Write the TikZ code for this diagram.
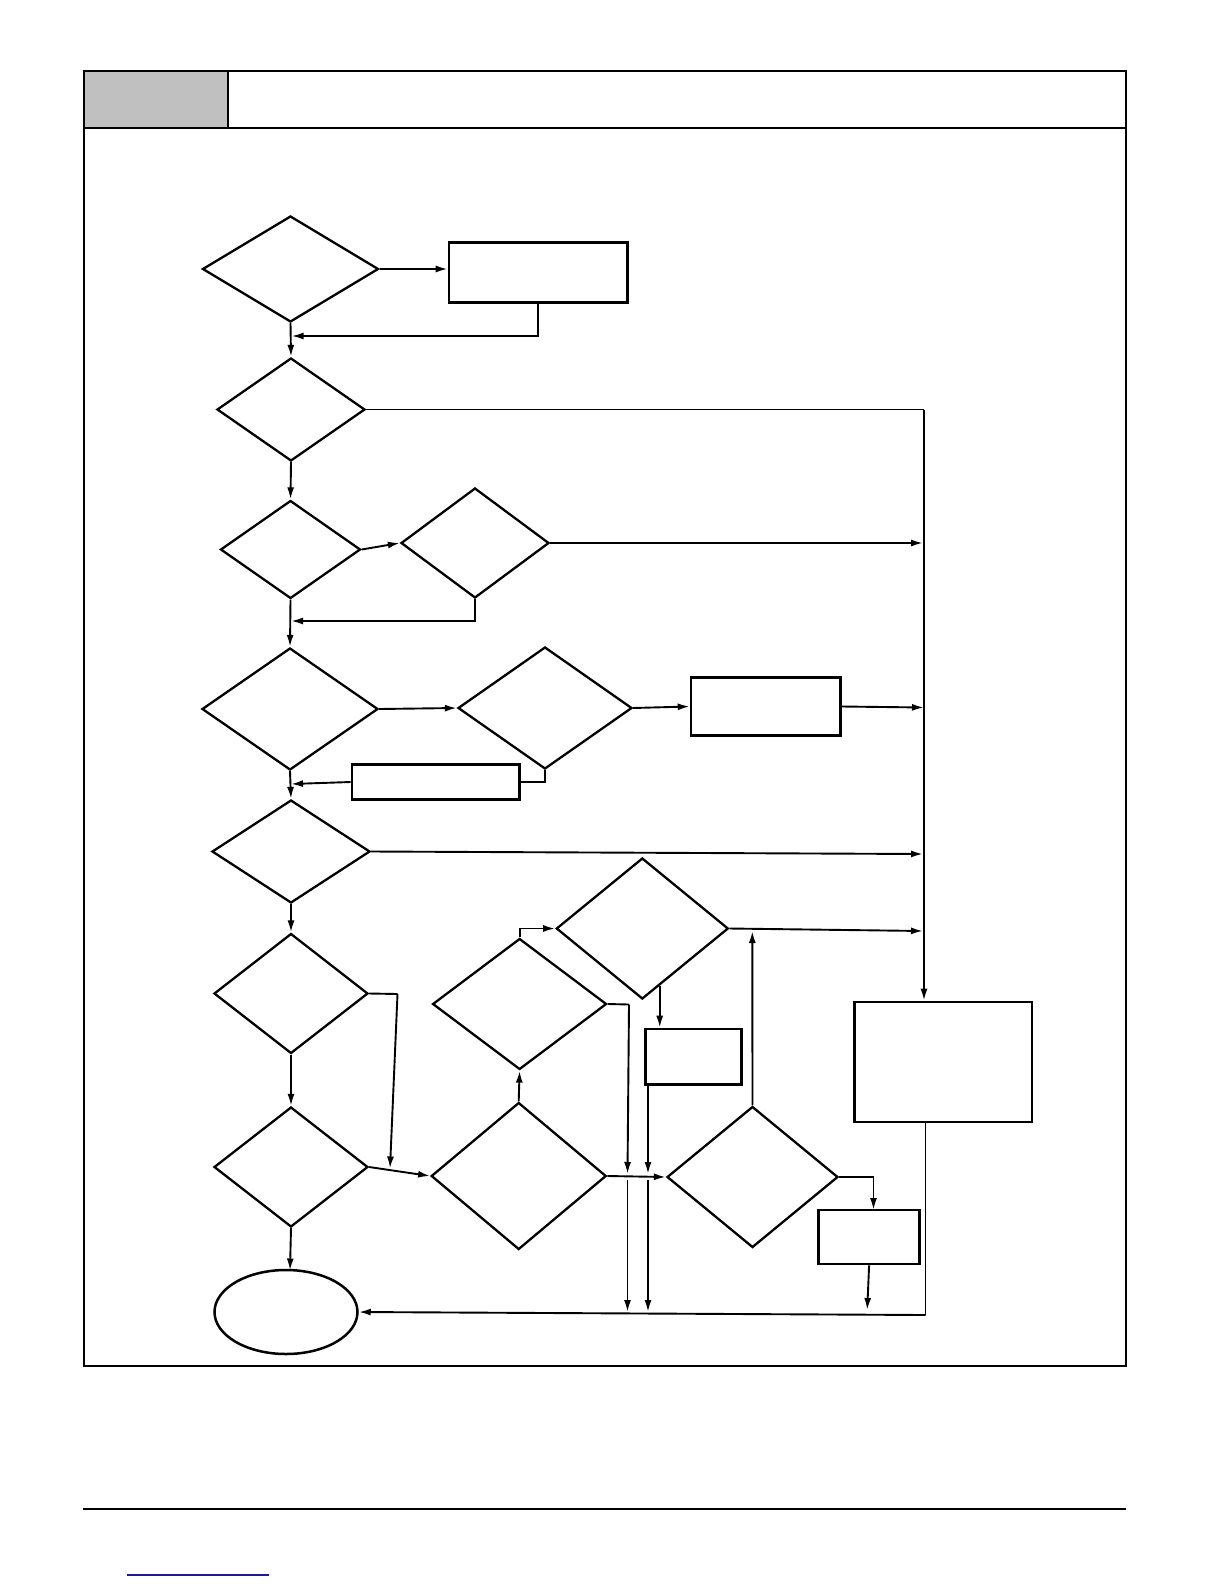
\documentclass[tikz,border=0pt]{standalone}
\usetikzlibrary{shapes.geometric,arrows.meta,calc}
\definecolor{hdrgray}{HTML}{C0C0C0}
\definecolor{linkblue}{HTML}{1A1A9A}
\tikzset{
  dia/.style={draw, shape=diamond, inner sep=0pt, line width=2.3pt, line join=miter},
  boxn/.style={draw, rectangle, inner sep=0pt, line width=2.7pt},
  endn/.style={draw, ellipse, inner sep=0pt, line width=2.5pt},
  conn/.style={line width=1.9pt},
  arr/.style={conn, -{Latex[length=12pt,width=7pt]}},
  frame/.style={line width=2pt}
}
\begin{document}
\begin{tikzpicture}[x=1pt,y=-1pt]
\useasboundingbox (0,0) rectangle (1224,1584);
% page frame and header
\fill[hdrgray] (83.5,71.5) rectangle (228,128);
\draw[frame] (83.5,71.5) rectangle (1126,1365.5);
\draw[frame] (83.5,128) -- (1126,128);
\draw[frame] (228,71.5) -- (228,128);
\draw[frame] (82.7,1509) -- (1126,1509);
\draw[linkblue, line width=1.3pt] (127,1575) -- (269,1575);

% nodes
\node[dia, minimum width=176pt, minimum height=106pt] (d1) at (290.5,269) {};
\node[boxn, minimum width=178.5pt, minimum height=60pt] (b1) at (538.3,272.5) {};
\node[dia, minimum width=148pt, minimum height=103pt] (d2) at (291,409.5) {};
\node[dia, minimum width=140pt, minimum height=98pt] (d3) at (290.5,549.5) {};
\node[dia, minimum width=148pt, minimum height=110pt] (d4) at (475,543) {};
\node[dia, minimum width=176pt, minimum height=122pt] (d5) at (290,709) {};
\node[dia, minimum width=174pt, minimum height=122pt] (d6) at (545,708) {};
\node[boxn, minimum width=149.5pt, minimum height=58.4pt] (b2) at (765.8,706.5) {};
\node[boxn, minimum width=167.6pt, minimum height=34.6pt] (b3) at (435.8,782) {};
\node[dia, minimum width=158pt, minimum height=103pt] (d7) at (291,851.5) {};
\node[dia, minimum width=154pt, minimum height=120pt] (d8) at (291,993.5) {};
\node[dia, minimum width=174pt, minimum height=131pt] (d9) at (519.6,1004) {};
\node[dia, minimum width=172pt, minimum height=141pt] (d10) at (642.3,928.5) {};
\node[boxn, minimum width=96pt, minimum height=55.7pt] (b4) at (693.6,1056.9) {};
\node[boxn, minimum width=177.5pt, minimum height=120pt] (b5) at (943.3,1062) {};
\node[dia, minimum width=154pt, minimum height=120pt] (d11) at (291,1167) {};
\node[dia, minimum width=175pt, minimum height=147pt] (d12) at (518.7,1176) {};
\node[dia, minimum width=171pt, minimum height=141pt] (d13) at (752.5,1177) {};
\node[boxn, minimum width=100.8pt, minimum height=54pt] (b6) at (869.1,1237) {};
\node[endn, minimum width=143pt, minimum height=84pt] (e1) at (286,1312) {};

% helper coordinates
\coordinate (j1) at (291.5,336);
\coordinate (j2) at (291,621);
\coordinate (j3) at (291,784);
\coordinate (r1) at (924,409.5);
\coordinate (r2) at (923,543);
\coordinate (r3) at (924,707.5);
\coordinate (r4) at (923,854);
\coordinate (r5) at (923,931);
\coordinate (k1) at (397.5,994);
\coordinate (k2) at (390,1168.5);
\coordinate (k3) at ($(d10.south)!0.2!(d10.east)$);
\coordinate (k4) at (629,1004.5);
\coordinate (k5) at (627.5,1174);
\coordinate (k6) at (627.5,1179.5);
\coordinate (k7) at (627.5,1312);
\coordinate (k8) at (648,1174);
\coordinate (k9) at (648,1179.5);
\coordinate (k10) at (648,1312);
\coordinate (k11) at (752.3,931);
\coordinate (k12) at (873.5,1210);
\coordinate (k13) at (867.2,1310);
\coordinate (k14) at (925.5,1122);
\coordinate (k15) at (925.5,1315);
\coordinate (k16) at (290,1270.5);

% connectors
\draw[arr] (d1.east) -- (d1.east -| b1.west);
\draw[arr] (b1.south) |- (j1);
\draw[arr] (d1.south) -- (d2.north);
\draw[conn] (d2.east) -- (r1);
\draw[arr] (r1) -- (r1 |- b5.north);
\draw[arr] (d2.south) -- (d3.north);
\draw[arr] (d3.east) -- (d4.west);
\draw[arr] (d4.east) -- (r2);
\draw[arr] (d4.south) |- (j2);
\draw[arr] (d3.south) -- (d5.north);
\draw[arr] (d5.east) -- (d6.west);
\draw[arr] (d6.east) -- (b2.west);
\draw[arr] (b2.east) -- (r3);
\draw[conn] (d6.south) |- (b3.east);
\draw[arr] (b3.west) -- (j3);
\draw[arr] (d5.south) -- (d7.north);
\draw[arr] (d7.east) -- (r4);
\draw[arr] (d7.south) -- (d8.north);
\draw[conn] (d8.east) -- (k1);
\draw[arr] (k1) -- (k2);
\draw[arr] (d8.south) -- (d11.north);
\draw[arr] (d9.north) |- (d10.west);
\draw[arr] (d10.east) -- (r5);
\draw[arr] (k3) -- (k3 |- b4.north);
\draw[conn] (d9.east) -- (k4);
\draw[arr] (k4) -- (k5);
\draw[arr] (k6) -- (k7);
\draw[arr] (b4.south -| k8) -- (k8);
\draw[arr] (k9) -- (k10);
\draw[arr] (d11.east) -- (d12.west);
\draw[arr] (d12.north) -- (d9.south);
\draw[arr] (d12.east) -- (d13.west);
\draw[arr] (d13.north) -- (k11);
\draw[arr] (d13.east) -| (k12);
\draw[arr] (b6.south) -- (k13);
\draw[conn] (k14) -- (k15);
\draw[arr] (k15) -- (e1.east);
\draw[arr] (d11.south) -- (k16);
\end{tikzpicture}
\end{document}
